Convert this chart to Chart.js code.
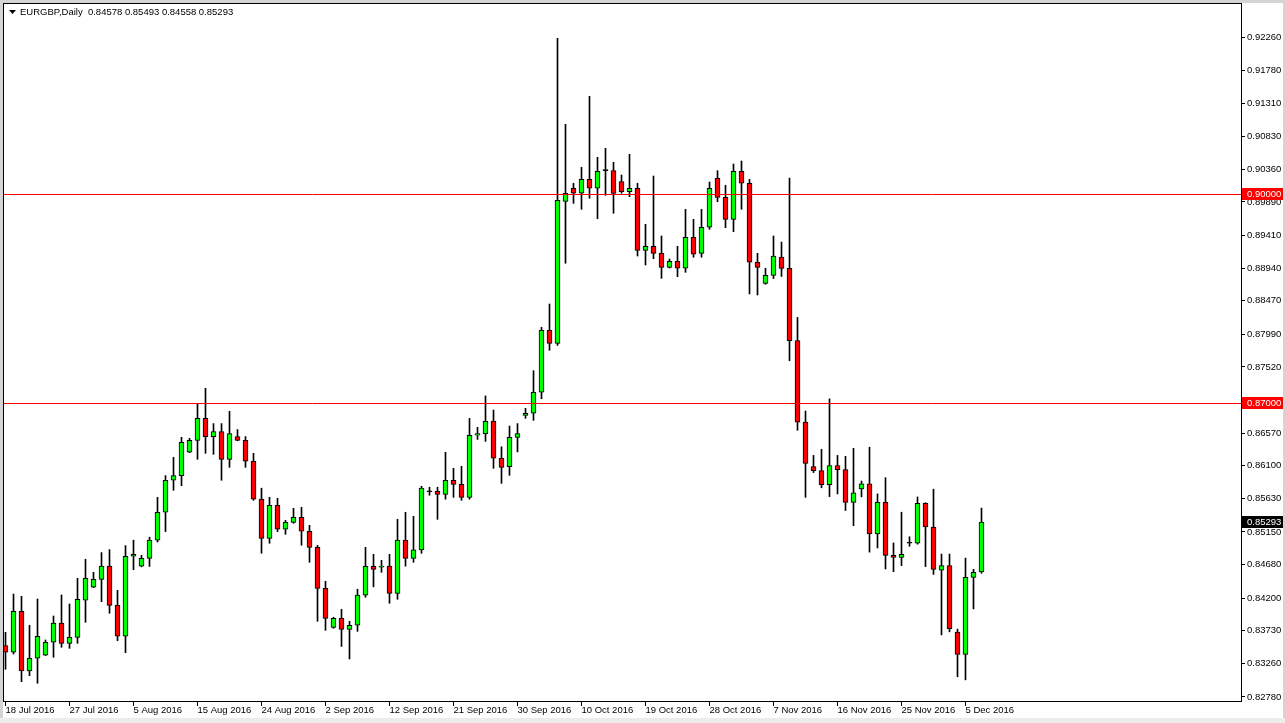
<!DOCTYPE html>
<html><head><meta charset="utf-8">
<script src="https://cdn.jsdelivr.net/npm/chart.js@4/dist/chart.umd.min.js"></script>
<style>html,body{margin:0;padding:0;background:#fff;overflow:hidden}#wrap{position:relative;width:1285px;height:723px}canvas{display:block}</style>
</head><body><div id="wrap"><canvas id="c" width="1285" height="723"></canvas></div>
<script>
const symbolTitle = 'EURGBP,Daily';
const openV  = [0.83517,0.83422,0.84011,0.83153,0.83336,0.83379,0.83566,0.83843,0.83551,0.83637,
0.84169,0.84356,0.84470,0.84659,0.84097,0.83652,0.84801,0.84659,0.84772,0.85032,
0.85433,0.85893,0.85960,0.86295,0.86467,0.86783,0.86520,0.86592,0.86194,0.86520,
0.86467,0.86166,0.85621,0.85059,0.85533,0.85189,0.85289,0.85361,0.85160,0.84930,
0.84341,0.83781,0.83910,0.83752,0.83810,0.84242,0.84657,0.84643,0.84659,0.84269,
0.85032,0.84772,0.84892,0.85728,0.85733,0.85690,0.85893,0.85835,0.85648,0.86539,
0.86563,0.86744,0.86209,0.86088,0.86510,0.86826,0.86855,0.87157,0.88047,0.87860,
0.89900,0.90087,0.90015,0.90216,0.90087,0.90340,0.90342,0.90182,0.90038,0.90087,
0.89196,0.89254,0.89153,0.88952,0.89038,0.88938,0.89383,0.89153,0.89527,0.90230,
0.89957,0.89641,0.90331,0.90159,0.89024,0.88722,0.88834,0.89097,0.88936,0.87898,
0.86727,0.86091,0.86032,0.85828,0.86105,0.86046,0.85575,0.85770,0.85842,0.85124,
0.85575,0.84814,0.84784,0.84988,0.84988,0.85561,0.85222,0.84600,0.84667,0.83711,
0.83390,0.84498,0.84578];
const highV  = [0.83709,0.84259,0.84226,0.83810,0.84187,0.83599,0.83943,0.84245,0.84116,0.84485,
0.84758,0.84571,0.84854,0.84897,0.84312,0.84954,0.85032,0.84815,0.85075,0.85648,
0.85960,0.86223,0.86510,0.86496,0.86999,0.87214,0.86707,0.86707,0.86884,0.86621,
0.86520,0.86280,0.85779,0.85648,0.85634,0.85318,0.85490,0.85505,0.85246,0.84959,
0.84442,0.83925,0.84040,0.83867,0.84328,0.84930,0.84830,0.84743,0.84830,0.85332,
0.85433,0.85375,0.85807,0.85793,0.85793,0.86295,0.86065,0.86094,0.86782,0.86653,
0.87104,0.86902,0.86375,0.86672,0.86707,0.86927,0.87467,0.88090,0.88425,0.92241,
0.91006,0.90159,0.90388,0.91408,0.90532,0.90661,0.90460,0.90278,0.90575,0.90159,
0.89570,0.90263,0.89402,0.89071,0.89254,0.89785,0.89641,0.89785,0.90177,0.90340,
0.90130,0.90436,0.90479,0.90216,0.89153,0.88938,0.89402,0.89315,0.90233,0.88232,
0.86887,0.86250,0.86338,0.87062,0.86250,0.86236,0.86352,0.85882,0.86368,0.85697,
0.85930,0.84993,0.85434,0.85081,0.85654,0.85570,0.85765,0.84833,0.84833,0.83755,
0.84775,0.84614,0.85493];
const lowV   = [0.83178,0.83397,0.83000,0.83086,0.82977,0.83375,0.83350,0.83494,0.83479,0.83551,
0.83853,0.84350,0.84149,0.83982,0.83589,0.83416,0.84608,0.84650,0.84655,0.85006,
0.85156,0.85749,0.85815,0.86290,0.86194,0.86280,0.86266,0.85893,0.86079,0.86460,
0.86079,0.85605,0.84844,0.84988,0.85156,0.85117,0.85275,0.84959,0.84715,0.83867,
0.83738,0.83767,0.83506,0.83326,0.83723,0.84213,0.84362,0.84571,0.84126,0.84183,
0.84659,0.84715,0.84844,0.85678,0.85332,0.85621,0.85648,0.85605,0.85621,0.86480,
0.86452,0.86065,0.85849,0.85964,0.86300,0.86782,0.86754,0.87065,0.87760,0.87831,
0.89010,0.89871,0.89785,0.89943,0.89650,0.89986,0.89728,0.90015,0.89966,0.89114,
0.88985,0.89076,0.88794,0.88942,0.88817,0.88880,0.89096,0.89096,0.89498,0.89894,
0.89521,0.89463,0.89785,0.88569,0.88554,0.88708,0.88791,0.88820,0.87610,0.86611,
0.85648,0.86003,0.85785,0.85658,0.85697,0.85459,0.85240,0.85654,0.84861,0.84920,
0.84619,0.84580,0.84667,0.84945,0.84975,0.84653,0.84541,0.83672,0.83716,0.83070,
0.83026,0.84045,0.84558];
const closeV = [0.83422,0.84011,0.83153,0.83336,0.83652,0.83566,0.83843,0.83551,0.83637,0.84183,
0.84485,0.84470,0.84659,0.84097,0.83652,0.84801,0.84830,0.84772,0.85032,0.85433,
0.85893,0.85960,0.86439,0.86467,0.86783,0.86520,0.86592,0.86194,0.86563,0.86467,
0.86166,0.85621,0.85059,0.85533,0.85189,0.85289,0.85361,0.85160,0.84930,0.84341,
0.83910,0.83910,0.83752,0.83810,0.84242,0.84657,0.84614,0.84659,0.84269,0.85032,
0.84772,0.84892,0.85779,0.85728,0.85690,0.85893,0.85835,0.85648,0.86539,0.86563,
0.86740,0.86209,0.86079,0.86510,0.86563,0.86855,0.87157,0.88047,0.87860,0.89914,
0.90015,0.90015,0.90216,0.90087,0.90331,0.90340,0.90012,0.90038,0.90087,0.89196,
0.89254,0.89153,0.88952,0.89038,0.88938,0.89383,0.89139,0.89527,0.90087,0.89957,
0.89641,0.90331,0.90159,0.89024,0.88952,0.88837,0.89112,0.88936,0.87898,0.86727,
0.86134,0.86032,0.85828,0.86105,0.86046,0.85575,0.85711,0.85842,0.85124,0.85575,
0.84814,0.84784,0.84828,0.84988,0.85561,0.85222,0.84614,0.84667,0.83760,0.83390,
0.84498,0.84571,0.85293];
const tickIdx = [0,8,16,24,32,40,48,56,64,72,80,88,96,104,112,120];
const tickLabels = ['18 Jul 2016','27 Jul 2016','5 Aug 2016','15 Aug 2016','24 Aug 2016','2 Sep 2016','12 Sep 2016','21 Sep 2016','30 Sep 2016','10 Oct 2016','19 Oct 2016','28 Oct 2016','7 Nov 2016','16 Nov 2016','25 Nov 2016','5 Dec 2016'];
const yTicks = [0.92260,0.91780,0.91310,0.90830,0.90360,0.89890,0.89410,0.88940,0.88470,0.87990,0.87520,0.86570,0.86100,0.85630,0.85150,0.84680,0.84200,0.83730,0.83260,0.82780];
const hLines = [0.90000, 0.87000];

const W = 1285, H = 723;
const FONT = {family: 'Liberation Sans', size: 9.5};
const N = openV.length;
const last = N - 1;
const bodies = openV.map((o, i) => ({x: i, y: [o, closeV[i]]}));
const wicks = lowV.map((l, i) => ({x: i, y: [l, highV[i]]}));
const bodyColors = openV.map((o, i) => closeV[i] > o ? '#00ff00' : (closeV[i] < o ? '#ff0000' : '#000000'));

function priceBox(ctx, y, value, bg) {
  const py = Math.round(y.getPixelForValue(value));
  ctx.fillStyle = bg;
  ctx.fillRect(1242, py - 6, 41, 12);
  ctx.fillStyle = '#ffffff';
  ctx.font = '9.5px "Liberation Sans"';
  ctx.textBaseline = 'middle';
  ctx.textAlign = 'left';
  ctx.fillText(value.toFixed(5), 1247, py + 0.5);
}

const framePlugin = {
  id: 'mt4frame',
  beforeDraw(chart) {
    const c = chart.ctx;
    c.save();
    c.fillStyle = '#ffffff';
    c.fillRect(0, 0, W, H);
    c.fillStyle = '#d4d4d4';
    c.fillRect(0, 0, W, 3);
    c.fillRect(0, 0, 3, H);
    c.fillRect(W - 2, 0, 2, H);
    c.fillStyle = '#ececec';
    c.fillRect(0, 718, W, 5);
    c.restore();
  },
  afterDatasetsDraw(chart) {
    const {ctx, chartArea: a, scales: {y}} = chart;
    ctx.save();
    ctx.strokeStyle = '#ff0000';
    ctx.lineWidth = 1;
    hLines.forEach(v => {
      const py = Math.round(y.getPixelForValue(v)) + 0.5;
      ctx.beginPath(); ctx.moveTo(a.left, py); ctx.lineTo(a.right, py); ctx.stroke();
    });
    ctx.restore();
  },
  afterDraw(chart) {
    const {ctx, chartArea: a, scales: {y}} = chart;
    ctx.save();
    ctx.strokeStyle = '#000000';
    ctx.lineWidth = 1;
    ctx.strokeRect(a.left + 0.5, a.top + 0.5, a.right - a.left, a.bottom - a.top);
    hLines.forEach(v => priceBox(ctx, y, v, '#ff0000'));
    priceBox(ctx, y, closeV[last], '#000000');
    // title
    ctx.fillStyle = '#000000';
    ctx.beginPath(); ctx.moveTo(9, 10); ctx.lineTo(16, 10); ctx.lineTo(12.5, 14); ctx.closePath(); ctx.fill();
    ctx.font = '9.5px "Liberation Sans"';
    ctx.textBaseline = 'middle';
    ctx.textAlign = 'left';
    const t = symbolTitle + '  ' + [openV[last], highV[last], lowV[last], closeV[last]].map(v => v.toFixed(5)).join(' ');
    ctx.fillText(t, 20, 12.5);
    ctx.restore();
  }
};

new Chart(document.getElementById('c').getContext('2d'), {
  type: 'bar',
  data: {datasets: [
    {data: bodies, backgroundColor: bodyColors, borderColor: '#000000', borderWidth: 1, borderSkipped: false,
     barThickness: 5, minBarLength: 1, grouped: false, order: 0},
    {data: wicks, backgroundColor: '#000000', borderWidth: 0, barThickness: 1, grouped: false, order: 1}
  ]},
  options: {
    responsive: false, animation: false, events: [], devicePixelRatio: 1,
    layout: {padding: {left: 3, top: 3, right: 0, bottom: 0}},
    plugins: {legend: {display: false}, tooltip: {enabled: false}, title: {display: false}},
    scales: {
      x: {type: 'linear', position: 'bottom', min: -0.3125, max: 154.4375, offset: false, bounds: 'data',
        grid: {display: true, drawOnChartArea: false, drawTicks: true, tickLength: 5, color: '#000000', offset: false},
        border: {display: false},
        ticks: {autoSkip: false, maxRotation: 0, minRotation: 0, align: 'start', labelOffset: 0, padding: -1,
          color: '#000000', font: FONT, callback: (v, i) => tickLabels[i]},
        afterBuildTicks: s => { s.ticks = tickIdx.map(v => ({value: v})); },
        afterFit: s => { s.height = 22; s.paddingLeft = 0; s.paddingRight = 0; }
      },
      y: {type: 'linear', position: 'right', min: 0.827223, max: 0.927484, bounds: 'data', beginAtZero: false,
        grid: {display: true, drawOnChartArea: false, drawTicks: true, tickLength: 4, color: '#000000'},
        border: {display: false},
        ticks: {autoSkip: false, padding: 2, color: '#000000', font: FONT, callback: v => Number(v).toFixed(5)},
        afterBuildTicks: s => { s.ticks = yTicks.map(v => ({value: v})); },
        afterFit: s => { s.width = 44; s.paddingTop = 0; s.paddingBottom = 0; }
      }
    }
  },
  plugins: [framePlugin]
});
</script>
</body></html>
